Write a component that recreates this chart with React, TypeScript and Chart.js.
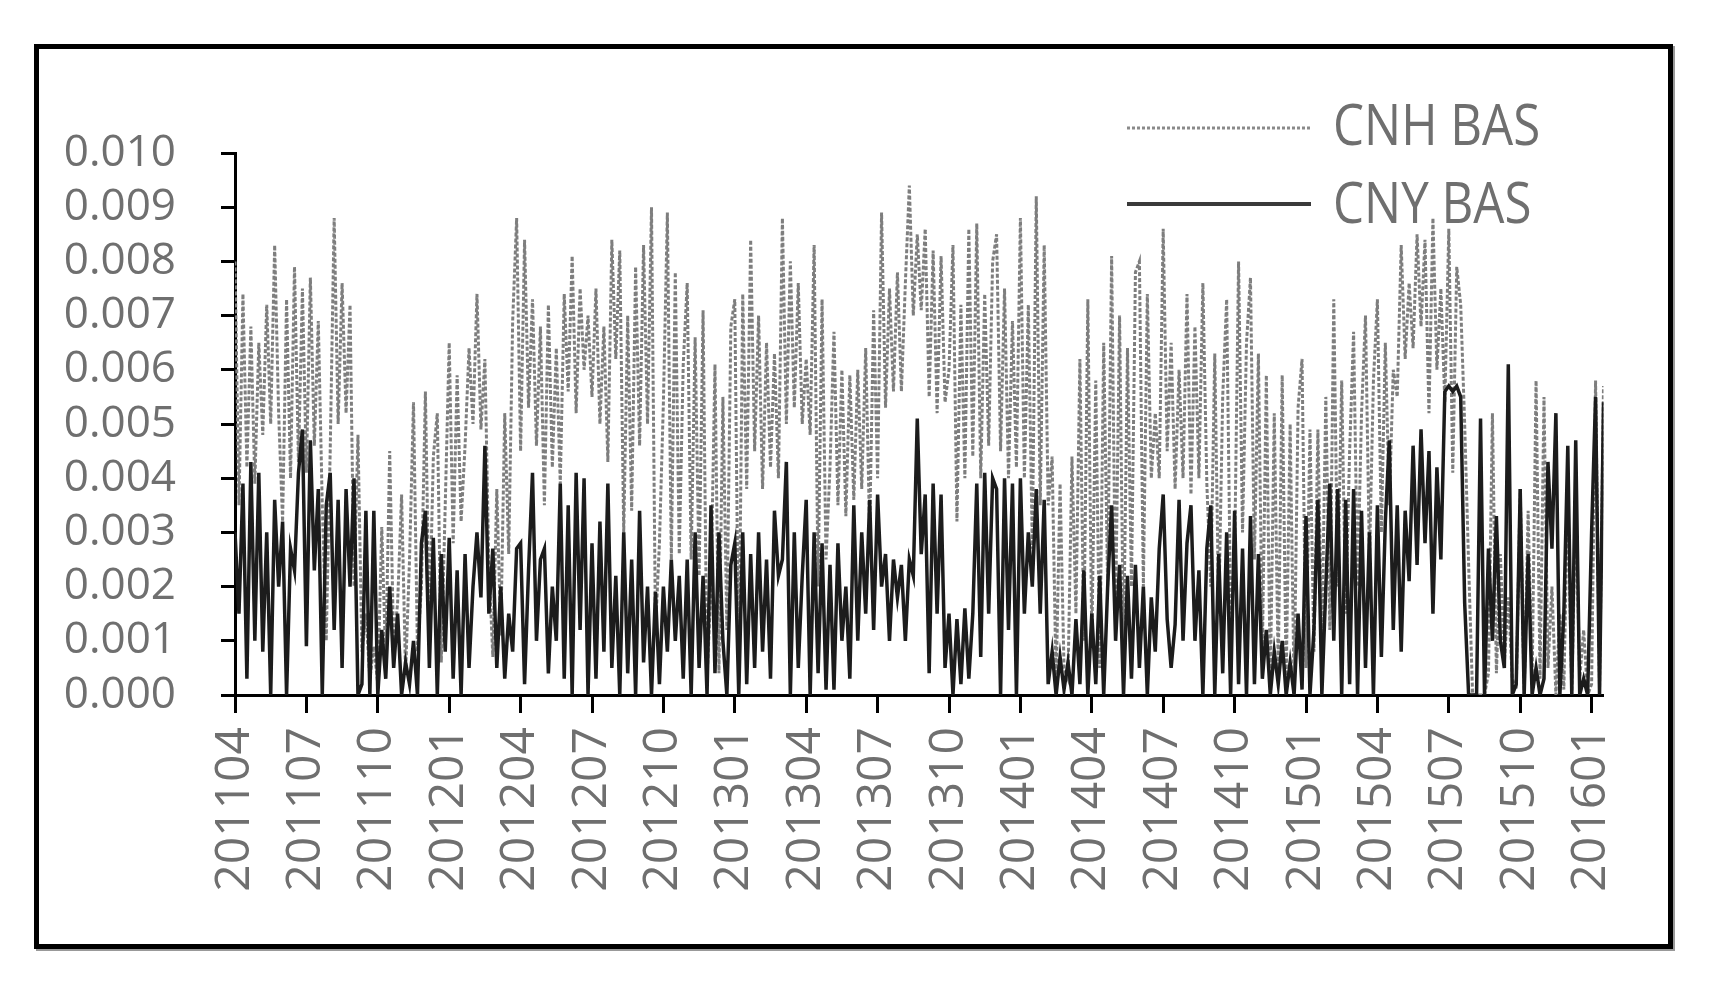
import { useEffect, useRef } from 'react';
import { Chart, registerables } from 'chart.js';

Chart.register(...registerables);

const tickLabels = ['201104', '201107', '201110', '201201', '201204', '201207', '201210', '201301', '201304', '201307', '201310', '201401', '201404', '201407', '201410', '201501', '201504', '201507', '201510', '201601'];
const seriesNames = ['CNH BAS', 'CNY BAS'];
const pointsPerMonth = 6;
const yTickStep = 0.001;

const cnhBas = [
  0.008, 0.0035, 0.0074, 0.0042, 0.0068, 0.0039,
  0.0065, 0.0048, 0.0072, 0.005, 0.0083, 0.0052,
  0.0032, 0.0073, 0.004, 0.0079, 0.0043, 0.0075,
  0.0041, 0.0077, 0.0046, 0.0069, 0.0035, 0.001,
  0.0045, 0.0088, 0.005, 0.0076, 0.0052, 0.0072,
  0.002, 0.0048, 0.0008, 0.0015, 0.0003, 0.0009,
  0.0002, 0.0031, 0.0006, 0.0045, 0.0009, 0.0017,
  0.0037, 0.0004, 0.0025, 0.0054, 0.0008, 0.002,
  0.0056, 0.0012, 0.0044, 0.0052, 0.0006, 0.0035,
  0.0065, 0.0028, 0.0059, 0.0032, 0.0046, 0.0064,
  0.005, 0.0074, 0.0049, 0.0062, 0.0024, 0.0007,
  0.0038, 0.0011, 0.0052, 0.0026, 0.0069, 0.0088,
  0.0045, 0.0084, 0.0053, 0.0073, 0.0046, 0.0068,
  0.0035, 0.0072, 0.0042, 0.0064, 0.0039, 0.0074,
  0.0056, 0.0081, 0.0052, 0.0075, 0.006, 0.007,
  0.0055, 0.0075, 0.005, 0.0068, 0.0043, 0.0084,
  0.0062, 0.0082, 0.003, 0.007, 0.0034, 0.0079,
  0.0046, 0.0083, 0.005, 0.009, 0.0012, 0.0028,
  0.0054, 0.0089, 0.0025, 0.0078, 0.0026, 0.0061,
  0.0076, 0.0025, 0.0066, 0.0022, 0.0071, 0.0003,
  0.002, 0.0061, 0.0004, 0.0055, 0.0012, 0.0068,
  0.0073, 0.0002, 0.0074, 0.0038, 0.0084, 0.0045,
  0.007, 0.0038, 0.0065, 0.0042, 0.0063, 0.004,
  0.0088, 0.005, 0.008, 0.0053, 0.0076, 0.005,
  0.0062, 0.0048, 0.0083, 0.002, 0.0073, 0.0025,
  0.0042, 0.0067, 0.0035, 0.006, 0.0033, 0.0059,
  0.0036, 0.006, 0.0038, 0.0064, 0.003, 0.0071,
  0.004, 0.0089, 0.0053, 0.0075, 0.0056, 0.0078,
  0.0056, 0.0076, 0.0094, 0.007, 0.0085, 0.0071,
  0.0086, 0.0055, 0.0082, 0.0052, 0.0081, 0.0054,
  0.006, 0.0083, 0.0032, 0.0072, 0.004, 0.0086,
  0.0044, 0.0087, 0.004, 0.0074, 0.0046, 0.008,
  0.0085, 0.0045, 0.0075, 0.004, 0.0069, 0.0042,
  0.0088, 0.004, 0.0072, 0.0027, 0.0092, 0.0035,
  0.0083, 0.0035, 0.0044, 0.0002, 0.0039, 0.0005,
  0.0003, 0.0044, 0.0015, 0.0062, 0.001, 0.0073,
  0.001, 0.0058, 0.0005, 0.0065, 0.002, 0.0081,
  0.0015, 0.007, 0.0008, 0.0064, 0.002, 0.0078,
  0.008, 0.002, 0.0074, 0.004, 0.0052, 0.004,
  0.0086, 0.0045, 0.0065, 0.0038, 0.006, 0.004,
  0.0074, 0.0037, 0.0068, 0.004, 0.0076, 0.0039,
  0.002, 0.0063, 0.0015, 0.0055, 0.0073, 0.0015,
  0.0025, 0.008, 0.003, 0.0065, 0.0077, 0.0025,
  0.0063, 0.0008, 0.0059, 0.0002, 0.0052, 0.0005,
  0.0059, 0.0003, 0.005, 0.0001, 0.0053, 0.0062,
  0.0005, 0.0049, 0.0008, 0.0049, 0.001, 0.0055,
  0.0012, 0.0073, 0.002, 0.0058, 0.0015, 0.0045,
  0.0067, 0.002, 0.0052, 0.007, 0.0025, 0.0058,
  0.0073, 0.003, 0.0065, 0.0035, 0.006, 0.0055,
  0.0083, 0.0062, 0.0076, 0.0064, 0.0085, 0.0068,
  0.0084, 0.0052, 0.0088, 0.006, 0.0075, 0.0054,
  0.0086, 0.0041, 0.0079, 0.0072, 0.005, 0.0024,
  0, 0, 0, 0, 0.0004, 0.0052,
  0.0004, 0.0026, 0.0006, 0.0018, 0.0003, 0.0001,
  0.0038, 0, 0.0034, 0.0002, 0.0058, 0.0003,
  0.0055, 0.0005, 0.002, 0, 0.0015, 0.0001,
  0.0038, 0, 0.0036, 0.0003, 0.0012, 0,
  0.0002, 0.0058, 0.0001, 0.0057,
];

const cnyBas = [
  0.003, 0.0015, 0.0039, 0.0003, 0.0043, 0.001,
  0.0041, 0.0008, 0.003, 0, 0.0036, 0.002,
  0.0032, 0, 0.0027, 0.0023, 0.0041, 0.0049,
  0.0009, 0.0047, 0.0023, 0.0038, 0, 0.0035,
  0.0041, 0.0012, 0.0036, 0.0005, 0.0038, 0.002,
  0.004, 0, 0.0002, 0.0034, 0, 0.0034,
  0, 0.0012, 0.0003, 0.002, 0.0005, 0.0015,
  0, 0.0006, 0.0002, 0.001, 0, 0.0028,
  0.0034, 0.0005, 0.0029, 0, 0.0026, 0.0008,
  0.0029, 0.0003, 0.0023, 0, 0.0026, 0.0005,
  0.002, 0.003, 0.0018, 0.0046, 0.0015, 0.0027,
  0.0005, 0.002, 0.0003, 0.0015, 0.0008, 0.0027,
  0.0028, 0.0002, 0.0023, 0.0041, 0.001, 0.0025,
  0.0027, 0.0004, 0.002, 0.001, 0.0039, 0.0003,
  0.0035, 0, 0.0041, 0.0012, 0.004, 0,
  0.0028, 0.0003, 0.0032, 0.0008, 0.0039, 0.0005,
  0.0022, 0, 0.003, 0.0004, 0.0025, 0,
  0.0034, 0.0006, 0.002, 0, 0.0019, 0.0002,
  0.002, 0.0008, 0.0025, 0.001, 0.0022, 0.0003,
  0.0025, 0, 0.003, 0.0005, 0.0022, 0,
  0.0035, 0.0004, 0.003, 0.001, 0, 0.0024,
  0.0028, 0, 0.003, 0.0002, 0.0026, 0.0005,
  0.003, 0.0008, 0.0025, 0.0003, 0.0034, 0.0022,
  0.0025, 0.0043, 0, 0.003, 0.0005, 0.0022,
  0.0036, 0, 0.003, 0.0004, 0.0028, 0.0001,
  0.0024, 0.0001, 0.0028, 0.001, 0.002, 0.0003,
  0.0035, 0.001, 0.003, 0.0015, 0.0036, 0.0012,
  0.0037, 0.002, 0.0026, 0.001, 0.0025, 0.0018,
  0.0024, 0.001, 0.0025, 0.0022, 0.0051, 0.0026,
  0.0037, 0.0004, 0.0039, 0.0015, 0.0037, 0.0005,
  0.0015, 0, 0.0014, 0.0002, 0.0016, 0.0003,
  0.0015, 0.0039, 0.0007, 0.0041, 0.0015, 0.004,
  0.0038, 0, 0.004, 0.0012, 0.0039, 0,
  0.004, 0.0015, 0.003, 0.002, 0.0038, 0.0015,
  0.0036, 0.0002, 0.0008, 0, 0.0007, 0.0001,
  0.0006, 0, 0.0014, 0.0002, 0.0023, 0,
  0.0015, 0.0002, 0.0022, 0, 0.002, 0.0035,
  0.001, 0.0024, 0, 0.0022, 0.0003, 0.0024,
  0.0005, 0.002, 0, 0.0018, 0.0008, 0.0027,
  0.0037, 0.0014, 0.0005, 0.0013, 0.0036, 0.001,
  0.0028, 0.0035, 0.001, 0.0023, 0, 0.0027,
  0.0035, 0, 0.0026, 0.0004, 0.003, 0,
  0.0034, 0.0002, 0.0027, 0, 0.0033, 0.0002,
  0.0026, 0.0003, 0.0012, 0, 0.0008, 0.0002,
  0.001, 0, 0.0006, 0, 0.0015, 0.0001,
  0.0033, 0, 0.0012, 0.0036, 0, 0.002,
  0.0039, 0.001, 0.0038, 0, 0.0036, 0.0002,
  0.0038, 0, 0.0034, 0.0005, 0.003, 0,
  0.0035, 0.0007, 0.0032, 0.0047, 0.0012, 0.0035,
  0.0008, 0.0034, 0.0021, 0.0046, 0.0024, 0.0049,
  0.0028, 0.0045, 0.0015, 0.0042, 0.0025, 0.0056,
  0.0057, 0.0056, 0.0057, 0.0055, 0.0017, 0,
  0, 0, 0.0051, 0, 0.0027, 0.001,
  0.0033, 0.001, 0.0005, 0.0061, 0, 0.0002,
  0.0038, 0, 0.0026, 0, 0.0005, 0,
  0.0003, 0.0043, 0.0027, 0.0052, 0, 0.0015,
  0.0046, 0, 0.0047, 0, 0.0003, 0,
  0.003, 0.0055, 0, 0.0054,
];

const textGray = '#6f6f6f';

const legendPlugin = {
  id: 'basLegend',
  beforeDatasetsDraw(chart: any) {
    const ctx = chart.ctx as CanvasRenderingContext2D;
    ctx.save();
    ctx.strokeStyle = '#8a8a8a';
    ctx.lineWidth = 3;
    ctx.setLineDash([3, 2]);
    ctx.beginPath();
    ctx.moveTo(1127, 128);
    ctx.lineTo(1311, 128);
    ctx.stroke();
    ctx.setLineDash([]);
    ctx.strokeStyle = '#3a3a3a';
    ctx.lineWidth = 4;
    ctx.beginPath();
    ctx.moveTo(1127, 204);
    ctx.lineTo(1311, 204);
    ctx.stroke();
    ctx.fillStyle = textGray;
    ctx.font = '56px "Open Sans"';
    ctx.textBaseline = 'alphabetic';
    const rows: [string, number][] = [[seriesNames[0], 145], [seriesNames[1], 223]];
    rows.forEach(([t, y]) => {
      ctx.save();
      ctx.translate(1333, y);
      ctx.scale(0.88, 1);
      ctx.fillText(t, 0, 0);
      ctx.restore();
    });
    ctx.restore();
  },
};

export default function App() {
  const ref = useRef<HTMLCanvasElement>(null);

  useEffect(() => {
    document.body.style.margin = '0';
    const toPoints = (arr: number[]) => arr.map((y, i) => ({ x: i / pointsPerMonth, y }));
    const chart = new Chart(ref.current as HTMLCanvasElement, {
      type: 'line',
      data: {
        datasets: [
          {
            label: seriesNames[1],
            data: toPoints(cnyBas),
            borderColor: '#1c1c1c',
            borderWidth: 3.5,
            pointRadius: 0,
            tension: 0,
            order: 0,
          },
          {
            label: seriesNames[0],
            data: toPoints(cnhBas),
            borderColor: '#7e7e7e',
            borderWidth: 3,
            borderDash: [4, 2],
            pointRadius: 0,
            tension: 0,
            order: 1,
          },
        ],
      },
      options: {
        animation: false,
        responsive: false,
        layout: { padding: { top: 153, right: 107.5, bottom: 0, left: 0 } },
        plugins: { legend: { display: false }, tooltip: { enabled: false } },
        scales: {
          x: {
            type: 'linear',
            min: 0,
            max: 57.5,
            afterFit: (s: any) => {
              s.height = 287;
            },
            grid: { drawOnChartArea: false, drawTicks: true, tickLength: 18, tickColor: '#000', tickWidth: 3 },
            border: { display: true, color: '#000', width: 3 },
            ticks: {
              stepSize: 3,
              includeBounds: false,
              autoSkip: false,
              maxRotation: 90,
              minRotation: 90,
              padding: 14,
              color: textGray,
              font: { family: 'Open Sans', size: 48 },
              callback: (v: any) => tickLabels[Math.round(Number(v) / 3)] ?? '',
            },
          },
          y: {
            min: 0,
            max: 0.01,
            afterFit: (s: any) => {
              s.width = 235;
            },
            grid: { drawOnChartArea: false, drawTicks: true, tickLength: 14, tickColor: '#000', tickWidth: 3 },
            border: { display: true, color: '#000', width: 3 },
            ticks: {
              stepSize: yTickStep,
              autoSkip: false,
              padding: 45,
              color: textGray,
              font: { family: 'Open Sans', size: 44 },
              callback: (v: any) => Number(v).toFixed(3),
            },
          },
        },
      },
      plugins: [legendPlugin],
    });
    return () => chart.destroy();
  }, []);

  return (
    <div style={{ position: 'fixed', left: 0, top: 0, width: 1711, height: 982, background: '#fff' }}>
      <canvas ref={ref} width={1711} height={982} style={{ position: 'absolute', left: 0, top: 0 }} />
      <div
        style={{
          position: 'absolute',
          left: 34,
          top: 44,
          width: 1639,
          height: 905,
          border: '5px solid #000',
          boxSizing: 'border-box',
          boxShadow: '2px 2px 0 #999',
          pointerEvents: 'none',
        }}
      />
    </div>
  );
}
